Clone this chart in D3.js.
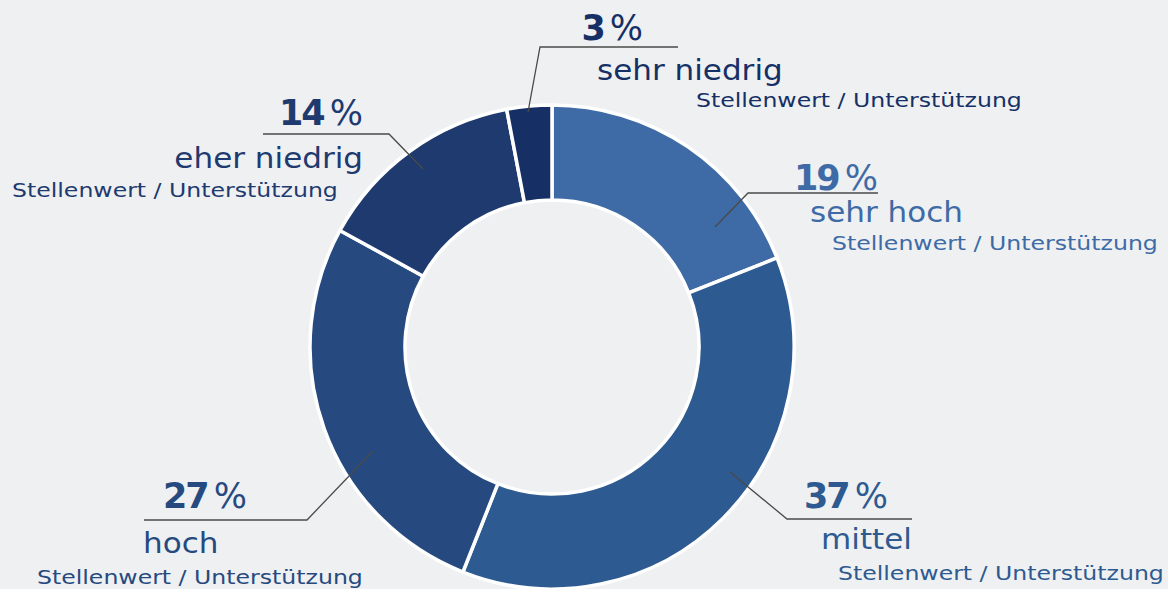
<!DOCTYPE html>
<html><head><meta charset="utf-8">
<script src="https://cdn.jsdelivr.net/npm/d3@7"></script>
<style>
html,body{margin:0;padding:0;background:#eff0f2;}
svg{display:block;}
text{font-family:"DejaVu Sans",sans-serif;}
</style></head><body>
<svg id="chart" width="1168" height="589"></svg>
<script>
const categories = ["sehr hoch", "mittel", "hoch", "eher niedrig", "sehr niedrig"];
const values = [19, 37, 27, 14, 3];
const colors = ["#3e6ba5", "#2d5a90", "#264a80", "#1e3a6f", "#163066"];
const subtitle = "Stellenwert / Unterstützung";

// label layout (positions only)
const layout = [
  {pt:[715,227], elbow:[748,193], lineEnd:878, pctX:878, pctY:190, pctAnchor:"end", catX:810, catY:222, catAnchor:"start", subX:832, subY:250},
  {pt:[730,472], elbow:[787,519], lineEnd:912, pctX:888, pctY:508, pctAnchor:"end", catX:912, catY:549, catAnchor:"end", subX:838, subY:580},
  {pt:[373,451], elbow:[307,520], lineEnd:144, pctX:247, pctY:508, pctAnchor:"end", catX:143, catY:553, catAnchor:"start", subX:37, subY:584},
  {pt:[423,169], elbow:[389,134], lineEnd:263, pctX:363, pctY:125, pctAnchor:"end", catX:363, catY:168, catAnchor:"end", subX:12, subY:197},
  {pt:[528,112], elbow:[540,47], lineEnd:678, pctX:643, pctY:40, pctAnchor:"end", catX:597, catY:80, catAnchor:"start", subX:696, subY:107}
];

const svg = d3.select("#chart");
const cx = 552, cy = 347, R = 242, r = 147;
const data = categories.map((c,i)=>({cat:c, value:values[i], color:colors[i], lay:layout[i]}));

const pie = d3.pie().value(d=>d.value).sort(null);
const arc = d3.arc().innerRadius(r).outerRadius(R);
const g = svg.append("g").attr("transform",`translate(${cx},${cy})`);
g.selectAll("path").data(pie(data)).join("path")
  .attr("d",arc).attr("fill",d=>d.data.color)
  .attr("stroke","#ffffff").attr("stroke-width",3.5).attr("stroke-linejoin","round");

function widen(sel, k){
  const len = sel.node().getComputedTextLength();
  sel.attr("textLength", len*k).attr("lengthAdjust","spacingAndGlyphs");
}

const lab = svg.append("g");
data.forEach(d=>{
  const L = d.lay;
  lab.append("polyline")
    .attr("points",[L.pt, L.elbow, [L.lineEnd, L.elbow[1]]].map(p=>p.join(",")).join(" "))
    .attr("fill","none").attr("stroke","#4a4a4a").attr("stroke-width",1.3);
  const t = lab.append("text").attr("x",L.pctX).attr("y",L.pctY).attr("text-anchor",L.pctAnchor)
    .attr("fill",d.color).attr("font-size",35).attr("font-weight",700).attr("letter-spacing",-2);
  t.append("tspan").text(d.value);
  t.append("tspan").attr("font-weight",400).attr("dx",6).attr("letter-spacing",0).text("%");
  const c = lab.append("text").attr("x",L.catX).attr("y",L.catY).attr("text-anchor",L.catAnchor)
    .attr("fill",d.color).attr("font-size",29).text(d.cat);
  widen(c, 1.07);
  const s = lab.append("text").attr("x",L.subX).attr("y",L.subY).attr("text-anchor","start")
    .attr("fill",d.color).attr("font-size",20).text(subtitle);
  widen(s, 1.18);
});
</script></body></html>
